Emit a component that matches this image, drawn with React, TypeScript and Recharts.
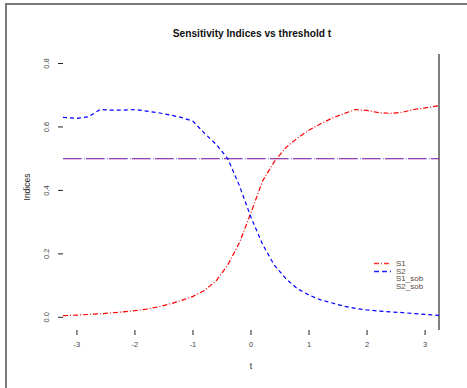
import React from 'react';
import { LineChart, Line, XAxis, YAxis, ReferenceLine } from 'recharts';

const tValues = [-3.24, -3.0, -2.8, -2.6, -2.4, -2.2, -2.0, -1.8, -1.6, -1.4, -1.2, -1.0, -0.8, -0.6, -0.4, -0.2, 0.0, 0.2, 0.4, 0.6, 0.8, 1.0, 1.2, 1.4, 1.6, 1.8, 2.0, 2.2, 2.4, 2.6, 2.8, 3.0, 3.24];
const s1Values = [0.005, 0.007, 0.009, 0.011, 0.014, 0.017, 0.021, 0.026, 0.033, 0.042, 0.053, 0.066, 0.085, 0.115, 0.165, 0.235, 0.33, 0.43, 0.49, 0.535, 0.565, 0.59, 0.61, 0.628, 0.642, 0.655, 0.652, 0.645, 0.643, 0.646, 0.655, 0.66, 0.667];
const s2Values = [0.63, 0.627, 0.632, 0.655, 0.653, 0.653, 0.655, 0.65, 0.645, 0.638, 0.63, 0.618, 0.58, 0.545, 0.5, 0.415, 0.315, 0.23, 0.165, 0.122, 0.09, 0.07, 0.055, 0.045, 0.035, 0.028, 0.023, 0.02, 0.017, 0.015, 0.012, 0.009, 0.006];
const sobT = [-3.24, 3.24];
const s1SobValues = [0.5, 0.5];
const s2SobValues = [0.5, 0.5];
const xTicks = [-3, -2, -1, 0, 1, 2, 3];
const yTicks = [0, 0.2, 0.4, 0.6, 0.8];
const legendLabels = ['S1', 'S2', 'S1_sob', 'S2_sob'];
const legendColors = ['#ff3030', '#2020ff', 'none', 'none'];
const legendDashes = ['5 2 1 2', '5 3', '', ''];

const data = tValues.map((t, i) => ({ t, S1: s1Values[i], S2: s2Values[i] }));
const sob1 = sobT.map((t, i) => ({ t, S1_sob: s1SobValues[i] }));
const sob2 = sobT.map((t, i) => ({ t, S2_sob: s2SobValues[i] }));

const FONT = 'Liberation Sans, Arial, Helvetica, sans-serif';

const YTick = (props: any) => {
  const { x, y, payload } = props;
  const cx = x - 9;
  return (
    <text
      x={cx}
      y={y}
      transform={`rotate(-90, ${cx}, ${y})`}
      textAnchor="middle"
      dominantBaseline="central"
      fontSize={7.5}
      fill="#444"
      fontFamily={FONT}
    >
      {Number(payload.value).toFixed(1)}
    </text>
  );
};

const LegendBox = () => (
  <div style={{ position: 'absolute', left: 370, top: 260, fontFamily: FONT, fontSize: 8, color: '#5a4a3a', lineHeight: '7.5px' }}>
    {legendLabels.map((lab, i) => (
      <div key={lab} style={{ display: 'flex', alignItems: 'center', height: 7.5 }}>
        <svg width={26} height={7} style={{ display: 'block' }}>
          <line x1={4} x2={21} y1={3.5} y2={3.5} stroke={legendColors[i]} strokeWidth={1.3} strokeDasharray={legendDashes[i]} />
        </svg>
        <span>{lab}</span>
      </div>
    ))}
  </div>
);

export default function App() {
  return (
    <div style={{ position: 'absolute', left: 0, top: 0, width: 467, height: 388, background: '#fff', overflow: 'hidden' }}>
      <div style={{ position: 'absolute', left: 5, top: 3, width: 470, height: 400, borderLeft: '2px solid #7a7a7a', borderTop: '2px solid #7a7a7a' }} />
      <div style={{ position: 'absolute', left: 0, top: 0 }}>
        <LineChart width={467} height={388} data={data} margin={{ top: 54, right: 28, bottom: 18, left: 0 }}>
          <text x={252} y={37} textAnchor="middle" fontSize={10.2} fontWeight="bold" fontFamily={FONT} fill="#111">
            Sensitivity Indices vs threshold t
          </text>
          <text x={30} y={187} textAnchor="middle" fontSize={8.5} fontFamily={FONT} fill="#222" transform="rotate(-90, 30, 187)">
            Indices
          </text>
          <text x={251} y={369} textAnchor="middle" fontSize={8.5} fontFamily={FONT} fill="#222">
            t
          </text>
          <XAxis
            dataKey="t"
            type="number"
            domain={[-3.24, 3.24]}
            ticks={xTicks}
            allowDataOverflow
            axisLine={false}
            tickLine={{ stroke: '#222' }}
            tickSize={5}
            tickMargin={7}
            height={40}
            tick={{ fontSize: 7.5, fill: '#444', fontFamily: FONT }}
          />
          <YAxis
            type="number"
            domain={[-0.04, 0.83]}
            ticks={yTicks}
            allowDataOverflow
            axisLine={false}
            tickLine={{ stroke: '#222' }}
            tickSize={5}
            width={63}
            tick={<YTick />}
          />
          <ReferenceLine x={3.24} stroke="#555" strokeWidth={1.5} ifOverflow="extendDomain" />
          <Line data={sob1} dataKey="S1_sob" stroke="#ff3030" strokeOpacity={0.75} strokeWidth={1.3} strokeDasharray="18 5" dot={false} isAnimationActive={false} />
          <Line data={sob2} dataKey="S2_sob" stroke="#3030ff" strokeOpacity={0.55} strokeWidth={1.3} strokeDasharray="19 2 1 1" dot={false} isAnimationActive={false} />
          <Line dataKey="S1" stroke="red" strokeWidth={1.2} strokeDasharray="5 2 1 2" dot={false} isAnimationActive={false} />
          <Line dataKey="S2" stroke="blue" strokeWidth={1.2} strokeDasharray="4 3" dot={false} isAnimationActive={false} />
        </LineChart>
      </div>
      <LegendBox />
    </div>
  );
}
